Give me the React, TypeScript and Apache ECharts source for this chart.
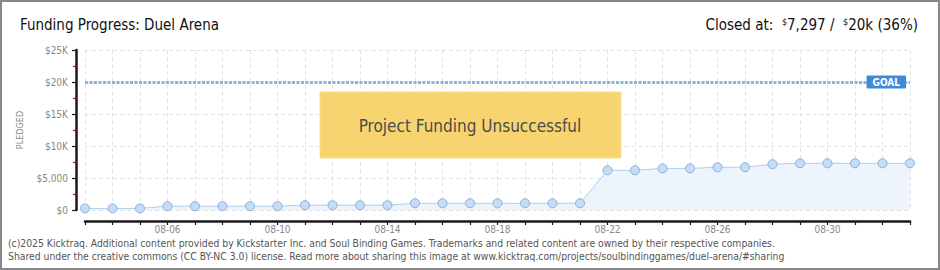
import React, { useEffect, useRef } from "react";
import * as echarts from "echarts";

const dates = [
  "08-03", "08-04", "08-05", "08-06", "08-07", "08-08", "08-09", "08-10",
  "08-11", "08-12", "08-13", "08-14", "08-15", "08-16", "08-17", "08-18",
  "08-19", "08-20", "08-21", "08-22", "08-23", "08-24", "08-25", "08-26",
  "08-27", "08-28", "08-29", "08-30", "08-31", "09-01", "09-02",
];
const pledged = [
  250, 250, 250, 600, 600, 600, 600, 600,
  750, 750, 750, 750, 1050, 1050, 1050, 1050,
  1050, 1050, 1050, 6200, 6200, 6500, 6500, 6680,
  6680, 7150, 7297, 7297, 7297, 7297, 7297,
];
const goal = 20000;
const yMax = 25000;
const yTickLabels = ["$0", "$5,000", "$10K", "$15K", "$20K", "$25K"];
const titleText = "Funding Progress: Duel Arena";
const statusText = "Project Funding Unsuccessful";
const footerLines = [
  "(c)2025 Kicktraq. Additional content provided by Kickstarter Inc. and Soul Binding Games. Trademarks and related content are owned by their respective companies.",
  "Shared under the creative commons (CC BY-NC 3.0) license. Read more about sharing this image at www.kicktraq.com/projects/soulbindinggames/duel-arena/#sharing",
];

const FONT = "'DejaVu Sans Condensed', 'DejaVu Sans', sans-serif";
const AXIS_COLOR = "#1a1a1a";

export default function App() {
  const ref = useRef<HTMLDivElement>(null);
  useEffect(() => {
    if (!ref.current) return;
    const chart = echarts.init(ref.current, undefined, { renderer: "svg" });
    chart.setOption({
      animation: false,
      backgroundColor: "#fff",
      textStyle: { fontFamily: FONT },
      grid: { left: 85, right: 30, top: 50, bottom: 60 },
      xAxis: {
        type: "category",
        data: dates,
        boundaryGap: false,
        offset: 11,
        axisLine: { show: true, onZero: false, lineStyle: { color: AXIS_COLOR, width: 2.5 } },
        axisTick: { show: true, length: 4, interval: 0, lineStyle: { color: AXIS_COLOR, width: 1.2 } },
        axisLabel: {
          interval: (i: number) => (i - 3) % 4 === 0,
          color: "#888",
          fontSize: 10,
          margin: 3,
          fontFamily: FONT,
        },
        splitLine: {
          show: true,
          interval: 0,
          lineStyle: { color: "#e3e3e3", type: [4, 3] },
        },
      },
      yAxis: {
        type: "value",
        min: 0,
        max: yMax,
        interval: 5000,
        offset: 9,
        name: "PLEDGED",
        nameLocation: "middle",
        nameGap: 52,
        nameTextStyle: { color: "#888", fontSize: 9, fontFamily: FONT },
        axisLine: { show: true, onZero: false, lineStyle: { color: AXIS_COLOR, width: 2.5 } },
        axisTick: { show: true, length: 4, lineStyle: { color: AXIS_COLOR, width: 1.2 } },
        minorTick: { show: true, splitNumber: 2, length: 3, lineStyle: { color: "#e00000", width: 1.2 } },
        axisLabel: {
          color: "#888",
          fontSize: 10,
          margin: 8,
          fontFamily: FONT,
          formatter: (v: number) => yTickLabels[Math.round(v / 5000)],
        },
        splitLine: { show: true, lineStyle: { color: "#e3e3e3", type: [4, 3] } },
      },
      series: [
        {
          type: "line",
          data: pledged,
          symbol: "circle",
          symbolSize: 9,
          itemStyle: { color: "#c5dcf6", borderColor: "#8eaed8", borderWidth: 1 },
          lineStyle: { color: "#b0cdee", width: 1 },
          areaStyle: { color: "#edf4fc", opacity: 1 },
          markLine: {
            silent: true,
            symbol: "none",
            data: [{ yAxis: goal }],
            lineStyle: { color: "#8fb2dd", width: 3, type: [3, 1.5] },
            label: {
              show: true,
              position: "insideEnd",
              formatter: "GOAL",
              color: "#fff",
              fontSize: 10,
              fontWeight: "bold",
              backgroundColor: "#3d8bd8",
              padding: [2, 6, 1, 6],
              borderRadius: 1,
              distance: 4,
              fontFamily: FONT,
            },
          },
          z: 3,
        },
      ],
      graphic: [
        {
          type: "rect",
          shape: { x: 1, y: 1, width: 938, height: 268 },
          style: { fill: "none", stroke: "#888", lineWidth: 2 },
          silent: true,
          z: 100,
        },
        {
          type: "text",
          x: 20,
          y: 25,
          style: {
            text: titleText,
            fontSize: 15,
            fontFamily: FONT,
            fill: "#111",
            verticalAlign: "middle",
          },
        },
        {
          type: "text",
          x: 918,
          y: 25,
          style: {
            text: "{n|Closed at:  }{s|$}{n|7,297 /  }{s|$}{n|20k (36%)}",
            align: "right",
            verticalAlign: "middle",
            fontFamily: FONT,
            rich: {
              n: { fontSize: 15, fill: "#111", fontFamily: FONT },
              s: { fontSize: 9, fill: "#111", fontFamily: FONT, verticalAlign: "top", padding: [0, 0, 6, 0] },
            },
          },
        },
        {
          type: "rect",
          shape: { x: 320, y: 92, width: 301, height: 66 },
          style: { fill: "#f7d46f", stroke: "#fbe08c", lineWidth: 1 },
          z: 10,
        },
        {
          type: "text",
          x: 470,
          y: 126,
          z: 11,
          style: {
            text: statusText,
            fontSize: 17,
            fontFamily: FONT,
            fill: "#4c4c4c",
            align: "center",
            verticalAlign: "middle",
            textShadowColor: "#fff",
            textShadowOffsetX: 1,
            textShadowOffsetY: 1,
            textShadowBlur: 0,
          },
        },
        {
          type: "text",
          x: 8,
          y: 243,
          style: { text: footerLines[0], fontSize: 10.3, fill: "#555", fontFamily: FONT, verticalAlign: "middle" },
        },
        {
          type: "text",
          x: 8,
          y: 256,
          style: { text: footerLines[1], fontSize: 10.3, fill: "#555", fontFamily: FONT, verticalAlign: "middle" },
        },
      ],
    });
    return () => chart.dispose();
  }, []);
  return (
    <div
      ref={ref}
      style={{ position: "fixed", left: 0, top: 0, width: 940, height: 270 }}
    />
  );
}
